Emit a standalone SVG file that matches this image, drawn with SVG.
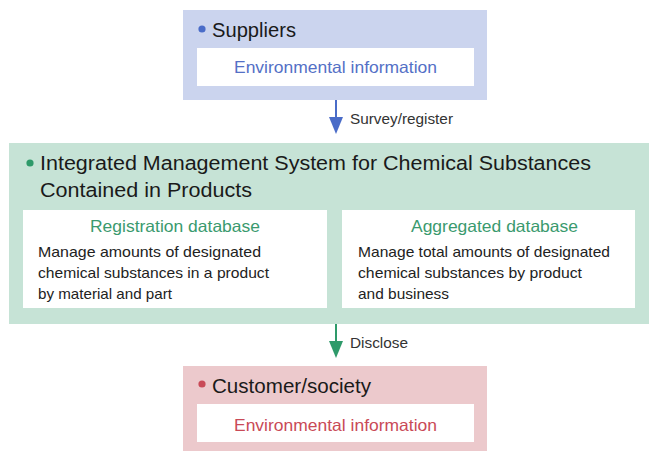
<svg xmlns="http://www.w3.org/2000/svg" width="649" height="451" viewBox="0 0 649 451">
<style>
text{font-family:"Liberation Sans",Arial,sans-serif}
.inner{fill:#ffffff}
.head{font-size:20px;fill:#1a1a1a}
.sub{font-size:16.5px;text-anchor:middle}
.body{font-size:15px;fill:#222}
.lbl{font-size:14.5px;fill:#333}
</style>
<rect width="649" height="451" fill="#ffffff"/>
<g id="suppliers">
<rect x="183" y="10" width="304" height="90" fill="#cbd4ee"/>
<rect class="inner" x="197" y="48" width="277" height="38"/>
<circle cx="202" cy="29" r="3.6" fill="#4a6cc8"/>
<text class="head" x="212" y="37" textLength="84" lengthAdjust="spacingAndGlyphs">Suppliers</text>
<text class="sub" x="335.5" y="73" fill="#5470c6" textLength="203" lengthAdjust="spacingAndGlyphs">Environmental information</text>
</g>
<g id="system">
<rect x="9" y="143" width="640" height="181" fill="#c6e3d6"/>
<circle cx="30" cy="163" r="3.6" fill="#2e9a6a"/>
<text class="head" x="40" y="170" textLength="551" lengthAdjust="spacingAndGlyphs">Integrated Management System for Chemical Substances</text>
<text class="head" x="40" y="197" textLength="212" lengthAdjust="spacingAndGlyphs">Contained in Products</text>
<g id="registration">
<rect class="inner" x="23" y="210" width="304" height="98"/>
<text class="sub" x="175" y="232" fill="#3a9a6e" textLength="170" lengthAdjust="spacingAndGlyphs">Registration database</text>
<text class="body" x="38" y="257" textLength="223" lengthAdjust="spacingAndGlyphs">Manage amounts of designated</text>
<text class="body" x="38" y="278" textLength="231" lengthAdjust="spacingAndGlyphs">chemical substances in a product</text>
<text class="body" x="38" y="299" textLength="134" lengthAdjust="spacingAndGlyphs">by material and part</text>
</g>
<g id="aggregated">
<rect class="inner" x="342" y="210" width="293" height="98"/>
<text class="sub" x="494.5" y="232" fill="#3a9a6e" textLength="167" lengthAdjust="spacingAndGlyphs">Aggregated database</text>
<text class="body" x="358" y="257" textLength="252" lengthAdjust="spacingAndGlyphs">Manage total amounts of designated</text>
<text class="body" x="358" y="278" textLength="224" lengthAdjust="spacingAndGlyphs">chemical substances by product</text>
<text class="body" x="358" y="299" textLength="91" lengthAdjust="spacingAndGlyphs">and business</text>
</g>
</g>
<g id="customer">
<rect x="183" y="366" width="304" height="85" fill="#ecc9cc"/>
<rect class="inner" x="197" y="404" width="277" height="38"/>
<circle cx="202" cy="384" r="3.6" fill="#c94a57"/>
<text class="head" x="212" y="393" textLength="159" lengthAdjust="spacingAndGlyphs">Customer/society</text>
<text class="sub" x="335.5" y="431" fill="#c94a57" textLength="203" lengthAdjust="spacingAndGlyphs">Environmental information</text>
</g>
<g id="connectors">
<line x1="336" y1="100" x2="336" y2="118" stroke="#4a6cc8" stroke-width="2"/>
<polygon points="329,117 343,117 336,134" fill="#4a6cc8"/>
<text class="lbl" x="350" y="124" textLength="103" lengthAdjust="spacingAndGlyphs">Survey/register</text>
<line x1="336" y1="324" x2="336" y2="342" stroke="#2e9a6a" stroke-width="2"/>
<polygon points="329,341 343,341 336,358" fill="#2e9a6a"/>
<text class="lbl" x="350" y="348" textLength="58" lengthAdjust="spacingAndGlyphs">Disclose</text>
</g>
</svg>
